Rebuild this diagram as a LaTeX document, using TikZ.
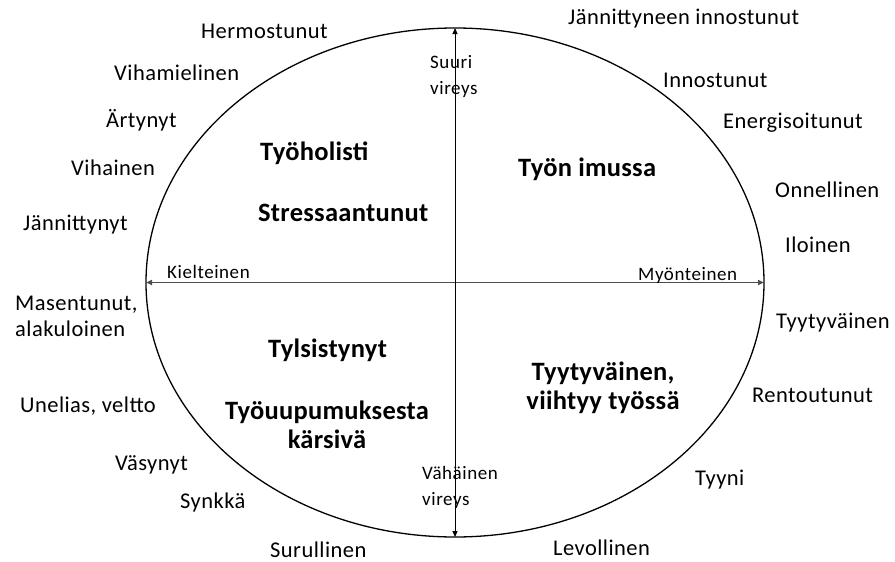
\documentclass[tikz,border=0pt]{standalone}
\usepackage{fontspec}
\setmainfont{Carlito}[LetterSpace=2]
\newfontfamily\axisfont[LetterSpace=3]{Carlito}
\newfontfamily\statefont[LetterSpace=1]{Carlito}
\usetikzlibrary{shapes.geometric,arrows.meta}
\begin{document}
\begin{tikzpicture}[x=1pt,y=-1pt,
  mood/.style={font=\fontsize{22.5}{26}\selectfont, inner sep=0pt, anchor=base west},
  moodblock/.style={font=\fontsize{22.5}{26}\selectfont, inner sep=0pt, align=left},
  state/.style={font=\statefont\fontsize{26.5}{28.5}\selectfont\bfseries, inner sep=0pt, anchor=base west},
  stateblock/.style={font=\statefont\fontsize{26.5}{28.5}\selectfont\bfseries, inner sep=0pt, align=center},
  axislabel/.style={font=\axisfont\fontsize{19}{26}\selectfont, inner sep=0pt, anchor=base west},
  axisblock/.style={font=\axisfont\fontsize{19}{26}\selectfont, inner sep=0pt, align=left},
]
\useasboundingbox (0,0) rectangle (895,562);

% the oval field and its two axes
\node[draw, ellipse, line width=1.3pt, minimum width=618pt, minimum height=509pt,
      inner sep=0pt, outer sep=0pt] (oval) at (455,282.5) {};
\draw[line width=1.6pt, black!70, {Triangle[length=6pt,width=5pt]}-{Triangle[length=6pt,width=5pt]}]
  (oval.west) -- (oval.east);
\draw[line width=1pt, {Triangle[length=6pt,width=5pt]}-{Triangle[length=6pt,width=5pt]}]
  (oval.south) -- (oval.north);

% axis labels
\node[axislabel] (neg) at (167,278) {Kielteinen};
\node[axislabel] (pos) at (638,280) {Myönteinen};
\node[axisblock, anchor=north west] (high) at (430,55) {Suuri\\vireys};
\node[axisblock, anchor=north west] (low) at (422,466) {Vähäinen\\vireys};

% states inside the oval
\node[state] (holic) at (260,160) {Työholisti};
\node[state] (stress) at (258,221) {Stressaantunut};
\node[state] (engaged) at (518,176) {Työn imussa};
\node[state] (bored) at (268,357) {Tylsistynyt};
\node[stateblock] (burnout) at (327,425) {Työuupumuksesta\\kärsivä};
\node[stateblock] (content) at (603,388) {Tyytyväinen,\\viihtyy työssä};

% moods around the oval
\node[mood] (m1) at (201,38) {Hermostunut};
\node[mood] (m2) at (114,80) {Vihamielinen};
\node[mood] (m3) at (106,127) {Ärtynyt};
\node[mood] (m4) at (71,175) {Vihainen};
\node[mood] (m5) at (23,230) {Jännittynyt};
\node[moodblock, anchor=north west] (m6) at (15,296) {Masentunut,\\alakuloinen};
\node[mood] (m7) at (20,412) {Unelias, veltto};
\node[mood] (m8) at (115,470) {Väsynyt};
\node[mood] (m9) at (180,508) {Synkkä};
\node[mood] (m10) at (270,557) {Surullinen};
\node[mood] (m11) at (568,24) {Jännittyneen innostunut};
\node[mood] (m12) at (663,87) {Innostunut};
\node[mood] (m13) at (723,128) {Energisoitunut};
\node[mood] (m14) at (775,197) {Onnellinen};
\node[mood] (m15) at (785,252) {Iloinen};
\node[mood] (m16) at (776,328) {Tyytyväinen};
\node[mood] (m17) at (752,402) {Rentoutunut};
\node[mood] (m18) at (695,485) {Tyyni};
\node[mood] (m19) at (553,555.5) {Levollinen};
\end{tikzpicture}
\end{document}
